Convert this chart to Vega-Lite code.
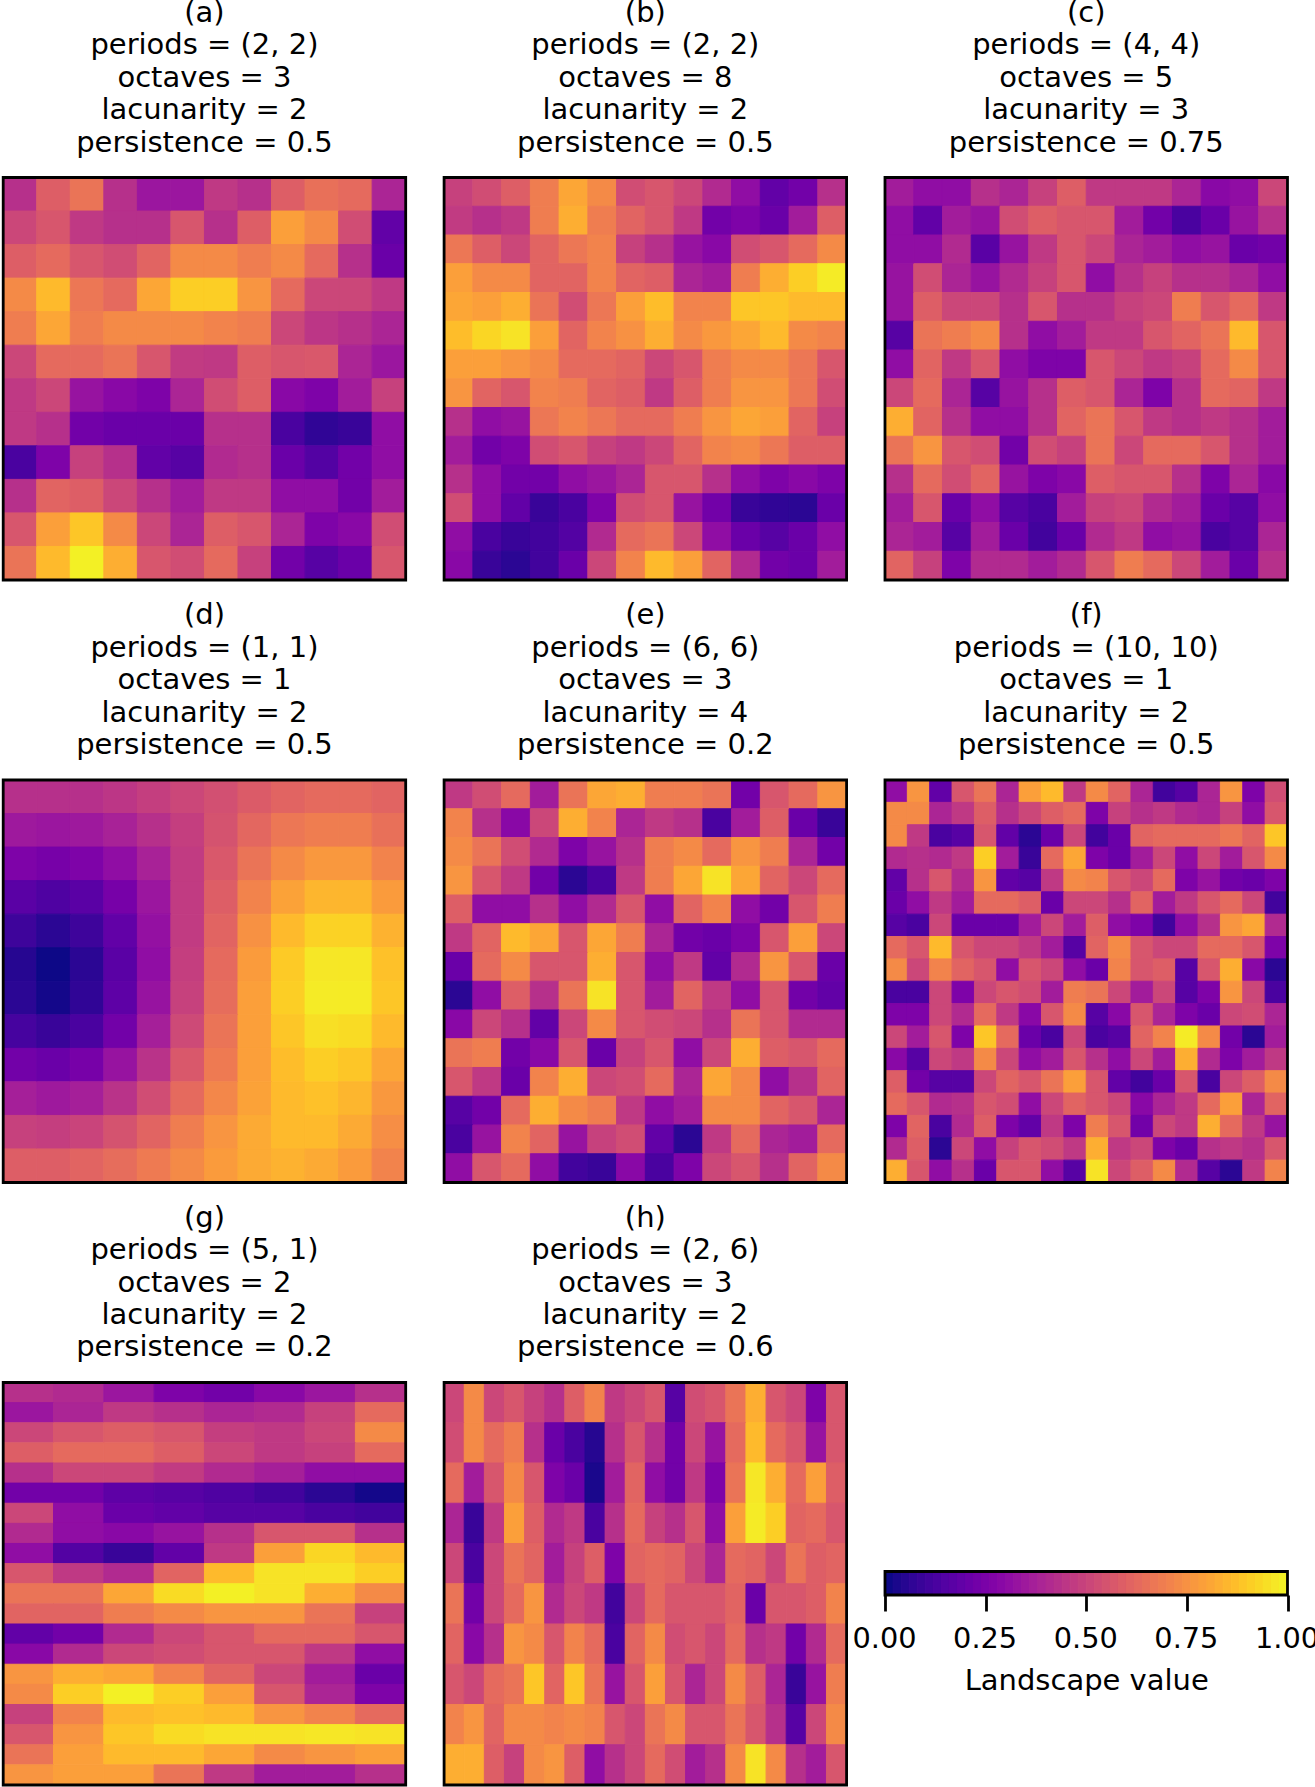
{"$schema":"https://vega.github.io/schema/vega-lite/v6.json","padding":{"left":1.2,"top":-1.5,"right":0,"bottom":0},"background":"white","config":{"font":"DejaVu Sans","view":{"stroke":null},"title":{"fontSize":29,"fontWeight":"normal","lineHeight":32.4,"color":"black","offset":18.6,"anchor":"middle","font":"DejaVu Sans"}},"datasets":{
"a":[
{"x":0,"y":0,"v":0.42},{"x":1,"y":0,"v":0.58},{"x":2,"y":0,"v":0.65},{"x":3,"y":0,"v":0.42},{"x":4,"y":0,"v":0.33},{"x":5,"y":0,"v":0.33},{"x":6,"y":0,"v":0.45},{"x":7,"y":0,"v":0.42},{"x":8,"y":0,"v":0.58},{"x":9,"y":0,"v":0.64},{"x":10,"y":0,"v":0.62},{"x":11,"y":0,"v":0.38},
{"x":0,"y":1,"v":0.5},{"x":1,"y":1,"v":0.55},{"x":2,"y":1,"v":0.45},{"x":3,"y":1,"v":0.42},{"x":4,"y":1,"v":0.42},{"x":5,"y":1,"v":0.55},{"x":6,"y":1,"v":0.42},{"x":7,"y":1,"v":0.58},{"x":8,"y":1,"v":0.78},{"x":9,"y":1,"v":0.72},{"x":10,"y":1,"v":0.52},{"x":11,"y":1,"v":0.18},
{"x":0,"y":2,"v":0.58},{"x":1,"y":2,"v":0.62},{"x":2,"y":2,"v":0.55},{"x":3,"y":2,"v":0.52},{"x":4,"y":2,"v":0.6},{"x":5,"y":2,"v":0.72},{"x":6,"y":2,"v":0.72},{"x":7,"y":2,"v":0.68},{"x":8,"y":2,"v":0.72},{"x":9,"y":2,"v":0.62},{"x":10,"y":2,"v":0.42},{"x":11,"y":2,"v":0.2},
{"x":0,"y":3,"v":0.72},{"x":1,"y":3,"v":0.85},{"x":2,"y":3,"v":0.66},{"x":3,"y":3,"v":0.62},{"x":4,"y":3,"v":0.8},{"x":5,"y":3,"v":0.9},{"x":6,"y":3,"v":0.9},{"x":7,"y":3,"v":0.75},{"x":8,"y":3,"v":0.62},{"x":9,"y":3,"v":0.5},{"x":10,"y":3,"v":0.5},{"x":11,"y":3,"v":0.45},
{"x":0,"y":4,"v":0.68},{"x":1,"y":4,"v":0.8},{"x":2,"y":4,"v":0.68},{"x":3,"y":4,"v":0.72},{"x":4,"y":4,"v":0.72},{"x":5,"y":4,"v":0.72},{"x":6,"y":4,"v":0.7},{"x":7,"y":4,"v":0.68},{"x":8,"y":4,"v":0.5},{"x":9,"y":4,"v":0.44},{"x":10,"y":4,"v":0.42},{"x":11,"y":4,"v":0.38},
{"x":0,"y":5,"v":0.5},{"x":1,"y":5,"v":0.62},{"x":2,"y":5,"v":0.62},{"x":3,"y":5,"v":0.65},{"x":4,"y":5,"v":0.55},{"x":5,"y":5,"v":0.46},{"x":6,"y":5,"v":0.45},{"x":7,"y":5,"v":0.58},{"x":8,"y":5,"v":0.55},{"x":9,"y":5,"v":0.56},{"x":10,"y":5,"v":0.38},{"x":11,"y":5,"v":0.33},
{"x":0,"y":6,"v":0.45},{"x":1,"y":6,"v":0.5},{"x":2,"y":6,"v":0.32},{"x":3,"y":6,"v":0.28},{"x":4,"y":6,"v":0.25},{"x":5,"y":6,"v":0.38},{"x":6,"y":6,"v":0.52},{"x":7,"y":6,"v":0.58},{"x":8,"y":6,"v":0.28},{"x":9,"y":6,"v":0.25},{"x":10,"y":6,"v":0.35},{"x":11,"y":6,"v":0.48},
{"x":0,"y":7,"v":0.45},{"x":1,"y":7,"v":0.42},{"x":2,"y":7,"v":0.22},{"x":3,"y":7,"v":0.2},{"x":4,"y":7,"v":0.2},{"x":5,"y":7,"v":0.2},{"x":6,"y":7,"v":0.42},{"x":7,"y":7,"v":0.42},{"x":8,"y":7,"v":0.12},{"x":9,"y":7,"v":0.06},{"x":10,"y":7,"v":0.08},{"x":11,"y":7,"v":0.3},
{"x":0,"y":8,"v":0.12},{"x":1,"y":8,"v":0.25},{"x":2,"y":8,"v":0.48},{"x":3,"y":8,"v":0.42},{"x":4,"y":8,"v":0.18},{"x":5,"y":8,"v":0.15},{"x":6,"y":8,"v":0.4},{"x":7,"y":8,"v":0.42},{"x":8,"y":8,"v":0.2},{"x":9,"y":8,"v":0.14},{"x":10,"y":8,"v":0.22},{"x":11,"y":8,"v":0.3},
{"x":0,"y":9,"v":0.42},{"x":1,"y":9,"v":0.6},{"x":2,"y":9,"v":0.58},{"x":3,"y":9,"v":0.5},{"x":4,"y":9,"v":0.42},{"x":5,"y":9,"v":0.35},{"x":6,"y":9,"v":0.45},{"x":7,"y":9,"v":0.45},{"x":8,"y":9,"v":0.3},{"x":9,"y":9,"v":0.3},{"x":10,"y":9,"v":0.22},{"x":11,"y":9,"v":0.35},
{"x":0,"y":10,"v":0.55},{"x":1,"y":10,"v":0.78},{"x":2,"y":10,"v":0.88},{"x":3,"y":10,"v":0.72},{"x":4,"y":10,"v":0.5},{"x":5,"y":10,"v":0.38},{"x":6,"y":10,"v":0.58},{"x":7,"y":10,"v":0.55},{"x":8,"y":10,"v":0.38},{"x":9,"y":10,"v":0.25},{"x":10,"y":10,"v":0.28},{"x":11,"y":10,"v":0.52},
{"x":0,"y":11,"v":0.65},{"x":1,"y":11,"v":0.85},{"x":2,"y":11,"v":0.98},{"x":3,"y":11,"v":0.82},{"x":4,"y":11,"v":0.55},{"x":5,"y":11,"v":0.52},{"x":6,"y":11,"v":0.62},{"x":7,"y":11,"v":0.48},{"x":8,"y":11,"v":0.22},{"x":9,"y":11,"v":0.15},{"x":10,"y":11,"v":0.2},{"x":11,"y":11,"v":0.55}],
"b":[
{"x":0,"y":0,"v":0.48},{"x":1,"y":0,"v":0.52},{"x":2,"y":0,"v":0.58},{"x":3,"y":0,"v":0.68},{"x":4,"y":0,"v":0.8},{"x":5,"y":0,"v":0.72},{"x":6,"y":0,"v":0.52},{"x":7,"y":0,"v":0.55},{"x":8,"y":0,"v":0.5},{"x":9,"y":0,"v":0.4},{"x":10,"y":0,"v":0.3},{"x":11,"y":0,"v":0.18},{"x":12,"y":0,"v":0.22},{"x":13,"y":0,"v":0.42},
{"x":0,"y":1,"v":0.46},{"x":1,"y":1,"v":0.42},{"x":2,"y":1,"v":0.45},{"x":3,"y":1,"v":0.68},{"x":4,"y":1,"v":0.82},{"x":5,"y":1,"v":0.68},{"x":6,"y":1,"v":0.6},{"x":7,"y":1,"v":0.55},{"x":8,"y":1,"v":0.45},{"x":9,"y":1,"v":0.22},{"x":10,"y":1,"v":0.25},{"x":11,"y":1,"v":0.2},{"x":12,"y":1,"v":0.35},{"x":13,"y":1,"v":0.58},
{"x":0,"y":2,"v":0.66},{"x":1,"y":2,"v":0.58},{"x":2,"y":2,"v":0.5},{"x":3,"y":2,"v":0.6},{"x":4,"y":2,"v":0.66},{"x":5,"y":2,"v":0.7},{"x":6,"y":2,"v":0.48},{"x":7,"y":2,"v":0.42},{"x":8,"y":2,"v":0.32},{"x":9,"y":2,"v":0.28},{"x":10,"y":2,"v":0.52},{"x":11,"y":2,"v":0.55},{"x":12,"y":2,"v":0.62},{"x":13,"y":2,"v":0.72},
{"x":0,"y":3,"v":0.78},{"x":1,"y":3,"v":0.72},{"x":2,"y":3,"v":0.72},{"x":3,"y":3,"v":0.6},{"x":4,"y":3,"v":0.6},{"x":5,"y":3,"v":0.7},{"x":6,"y":3,"v":0.6},{"x":7,"y":3,"v":0.58},{"x":8,"y":3,"v":0.38},{"x":9,"y":3,"v":0.35},{"x":10,"y":3,"v":0.68},{"x":11,"y":3,"v":0.82},{"x":12,"y":3,"v":0.9},{"x":13,"y":3,"v":0.97},
{"x":0,"y":4,"v":0.8},{"x":1,"y":4,"v":0.78},{"x":2,"y":4,"v":0.82},{"x":3,"y":4,"v":0.65},{"x":4,"y":4,"v":0.52},{"x":5,"y":4,"v":0.66},{"x":6,"y":4,"v":0.78},{"x":7,"y":4,"v":0.86},{"x":8,"y":4,"v":0.7},{"x":9,"y":4,"v":0.7},{"x":10,"y":4,"v":0.88},{"x":11,"y":4,"v":0.88},{"x":12,"y":4,"v":0.85},{"x":13,"y":4,"v":0.85},
{"x":0,"y":5,"v":0.86},{"x":1,"y":5,"v":0.92},{"x":2,"y":5,"v":0.95},{"x":3,"y":5,"v":0.78},{"x":4,"y":5,"v":0.6},{"x":5,"y":5,"v":0.7},{"x":6,"y":5,"v":0.74},{"x":7,"y":5,"v":0.82},{"x":8,"y":5,"v":0.72},{"x":9,"y":5,"v":0.76},{"x":10,"y":5,"v":0.8},{"x":11,"y":5,"v":0.85},{"x":12,"y":5,"v":0.72},{"x":13,"y":5,"v":0.7},
{"x":0,"y":6,"v":0.78},{"x":1,"y":6,"v":0.78},{"x":2,"y":6,"v":0.75},{"x":3,"y":6,"v":0.72},{"x":4,"y":6,"v":0.62},{"x":5,"y":6,"v":0.62},{"x":6,"y":6,"v":0.6},{"x":7,"y":6,"v":0.5},{"x":8,"y":6,"v":0.55},{"x":9,"y":6,"v":0.68},{"x":10,"y":6,"v":0.72},{"x":11,"y":6,"v":0.72},{"x":12,"y":6,"v":0.66},{"x":13,"y":6,"v":0.55},
{"x":0,"y":7,"v":0.75},{"x":1,"y":7,"v":0.6},{"x":2,"y":7,"v":0.55},{"x":3,"y":7,"v":0.7},{"x":4,"y":7,"v":0.68},{"x":5,"y":7,"v":0.6},{"x":6,"y":7,"v":0.58},{"x":7,"y":7,"v":0.45},{"x":8,"y":7,"v":0.58},{"x":9,"y":7,"v":0.68},{"x":10,"y":7,"v":0.75},{"x":11,"y":7,"v":0.75},{"x":12,"y":7,"v":0.66},{"x":13,"y":7,"v":0.52},
{"x":0,"y":8,"v":0.42},{"x":1,"y":8,"v":0.3},{"x":2,"y":8,"v":0.32},{"x":3,"y":8,"v":0.66},{"x":4,"y":8,"v":0.7},{"x":5,"y":8,"v":0.66},{"x":6,"y":8,"v":0.62},{"x":7,"y":8,"v":0.62},{"x":8,"y":8,"v":0.68},{"x":9,"y":8,"v":0.75},{"x":10,"y":8,"v":0.8},{"x":11,"y":8,"v":0.78},{"x":12,"y":8,"v":0.6},{"x":13,"y":8,"v":0.48},
{"x":0,"y":9,"v":0.35},{"x":1,"y":9,"v":0.22},{"x":2,"y":9,"v":0.25},{"x":3,"y":9,"v":0.52},{"x":4,"y":9,"v":0.55},{"x":5,"y":9,"v":0.48},{"x":6,"y":9,"v":0.45},{"x":7,"y":9,"v":0.5},{"x":8,"y":9,"v":0.6},{"x":9,"y":9,"v":0.7},{"x":10,"y":9,"v":0.72},{"x":11,"y":9,"v":0.66},{"x":12,"y":9,"v":0.58},{"x":13,"y":9,"v":0.58},
{"x":0,"y":10,"v":0.42},{"x":1,"y":10,"v":0.3},{"x":2,"y":10,"v":0.22},{"x":3,"y":10,"v":0.22},{"x":4,"y":10,"v":0.3},{"x":5,"y":10,"v":0.33},{"x":6,"y":10,"v":0.38},{"x":7,"y":10,"v":0.55},{"x":8,"y":10,"v":0.55},{"x":9,"y":10,"v":0.42},{"x":10,"y":10,"v":0.3},{"x":11,"y":10,"v":0.25},{"x":12,"y":10,"v":0.28},{"x":13,"y":10,"v":0.25},
{"x":0,"y":11,"v":0.52},{"x":1,"y":11,"v":0.3},{"x":2,"y":11,"v":0.18},{"x":3,"y":11,"v":0.08},{"x":4,"y":11,"v":0.12},{"x":5,"y":11,"v":0.25},{"x":6,"y":11,"v":0.52},{"x":7,"y":11,"v":0.55},{"x":8,"y":11,"v":0.32},{"x":9,"y":11,"v":0.22},{"x":10,"y":11,"v":0.08},{"x":11,"y":11,"v":0.06},{"x":12,"y":11,"v":0.05},{"x":13,"y":11,"v":0.2},
{"x":0,"y":12,"v":0.3},{"x":1,"y":12,"v":0.12},{"x":2,"y":12,"v":0.08},{"x":3,"y":12,"v":0.1},{"x":4,"y":12,"v":0.14},{"x":5,"y":12,"v":0.4},{"x":6,"y":12,"v":0.62},{"x":7,"y":12,"v":0.65},{"x":8,"y":12,"v":0.5},{"x":9,"y":12,"v":0.3},{"x":10,"y":12,"v":0.2},{"x":11,"y":12,"v":0.15},{"x":12,"y":12,"v":0.2},{"x":13,"y":12,"v":0.3},
{"x":0,"y":13,"v":0.28},{"x":1,"y":13,"v":0.08},{"x":2,"y":13,"v":0.05},{"x":3,"y":13,"v":0.1},{"x":4,"y":13,"v":0.2},{"x":5,"y":13,"v":0.5},{"x":6,"y":13,"v":0.7},{"x":7,"y":13,"v":0.85},{"x":8,"y":13,"v":0.78},{"x":9,"y":13,"v":0.6},{"x":10,"y":13,"v":0.4},{"x":11,"y":13,"v":0.22},{"x":12,"y":13,"v":0.2},{"x":13,"y":13,"v":0.35}],
"c":[
{"x":0,"y":0,"v":0.35},{"x":1,"y":0,"v":0.3},{"x":2,"y":0,"v":0.3},{"x":3,"y":0,"v":0.42},{"x":4,"y":0,"v":0.38},{"x":5,"y":0,"v":0.48},{"x":6,"y":0,"v":0.58},{"x":7,"y":0,"v":0.45},{"x":8,"y":0,"v":0.45},{"x":9,"y":0,"v":0.45},{"x":10,"y":0,"v":0.38},{"x":11,"y":0,"v":0.28},{"x":12,"y":0,"v":0.3},{"x":13,"y":0,"v":0.5},
{"x":0,"y":1,"v":0.3},{"x":1,"y":1,"v":0.18},{"x":2,"y":1,"v":0.35},{"x":3,"y":1,"v":0.32},{"x":4,"y":1,"v":0.52},{"x":5,"y":1,"v":0.58},{"x":6,"y":1,"v":0.55},{"x":7,"y":1,"v":0.55},{"x":8,"y":1,"v":0.35},{"x":9,"y":1,"v":0.22},{"x":10,"y":1,"v":0.12},{"x":11,"y":1,"v":0.2},{"x":12,"y":1,"v":0.32},{"x":13,"y":1,"v":0.42},
{"x":0,"y":2,"v":0.3},{"x":1,"y":2,"v":0.3},{"x":2,"y":2,"v":0.4},{"x":3,"y":2,"v":0.16},{"x":4,"y":2,"v":0.32},{"x":5,"y":2,"v":0.45},{"x":6,"y":2,"v":0.55},{"x":7,"y":2,"v":0.5},{"x":8,"y":2,"v":0.38},{"x":9,"y":2,"v":0.35},{"x":10,"y":2,"v":0.3},{"x":11,"y":2,"v":0.32},{"x":12,"y":2,"v":0.2},{"x":13,"y":2,"v":0.22},
{"x":0,"y":3,"v":0.32},{"x":1,"y":3,"v":0.52},{"x":2,"y":3,"v":0.38},{"x":3,"y":3,"v":0.32},{"x":4,"y":3,"v":0.4},{"x":5,"y":3,"v":0.48},{"x":6,"y":3,"v":0.55},{"x":7,"y":3,"v":0.3},{"x":8,"y":3,"v":0.42},{"x":9,"y":3,"v":0.48},{"x":10,"y":3,"v":0.42},{"x":11,"y":3,"v":0.42},{"x":12,"y":3,"v":0.38},{"x":13,"y":3,"v":0.3},
{"x":0,"y":4,"v":0.32},{"x":1,"y":4,"v":0.58},{"x":2,"y":4,"v":0.5},{"x":3,"y":4,"v":0.5},{"x":4,"y":4,"v":0.42},{"x":5,"y":4,"v":0.55},{"x":6,"y":4,"v":0.42},{"x":7,"y":4,"v":0.42},{"x":8,"y":4,"v":0.48},{"x":9,"y":4,"v":0.5},{"x":10,"y":4,"v":0.68},{"x":11,"y":4,"v":0.55},{"x":12,"y":4,"v":0.62},{"x":13,"y":4,"v":0.45},
{"x":0,"y":5,"v":0.15},{"x":1,"y":5,"v":0.65},{"x":2,"y":5,"v":0.68},{"x":3,"y":5,"v":0.72},{"x":4,"y":5,"v":0.42},{"x":5,"y":5,"v":0.3},{"x":6,"y":5,"v":0.35},{"x":7,"y":5,"v":0.45},{"x":8,"y":5,"v":0.45},{"x":9,"y":5,"v":0.55},{"x":10,"y":5,"v":0.6},{"x":11,"y":5,"v":0.65},{"x":12,"y":5,"v":0.85},{"x":13,"y":5,"v":0.55},
{"x":0,"y":6,"v":0.3},{"x":1,"y":6,"v":0.6},{"x":2,"y":6,"v":0.45},{"x":3,"y":6,"v":0.55},{"x":4,"y":6,"v":0.3},{"x":5,"y":6,"v":0.25},{"x":6,"y":6,"v":0.25},{"x":7,"y":6,"v":0.55},{"x":8,"y":6,"v":0.5},{"x":9,"y":6,"v":0.45},{"x":10,"y":6,"v":0.48},{"x":11,"y":6,"v":0.62},{"x":12,"y":6,"v":0.72},{"x":13,"y":6,"v":0.55},
{"x":0,"y":7,"v":0.5},{"x":1,"y":7,"v":0.62},{"x":2,"y":7,"v":0.38},{"x":3,"y":7,"v":0.15},{"x":4,"y":7,"v":0.32},{"x":5,"y":7,"v":0.42},{"x":6,"y":7,"v":0.58},{"x":7,"y":7,"v":0.55},{"x":8,"y":7,"v":0.38},{"x":9,"y":7,"v":0.25},{"x":10,"y":7,"v":0.42},{"x":11,"y":7,"v":0.62},{"x":12,"y":7,"v":0.6},{"x":13,"y":7,"v":0.45},
{"x":0,"y":8,"v":0.82},{"x":1,"y":8,"v":0.6},{"x":2,"y":8,"v":0.42},{"x":3,"y":8,"v":0.3},{"x":4,"y":8,"v":0.3},{"x":5,"y":8,"v":0.42},{"x":6,"y":8,"v":0.6},{"x":7,"y":8,"v":0.65},{"x":8,"y":8,"v":0.55},{"x":9,"y":8,"v":0.45},{"x":10,"y":8,"v":0.42},{"x":11,"y":8,"v":0.45},{"x":12,"y":8,"v":0.42},{"x":13,"y":8,"v":0.35},
{"x":0,"y":9,"v":0.65},{"x":1,"y":9,"v":0.75},{"x":2,"y":9,"v":0.55},{"x":3,"y":9,"v":0.52},{"x":4,"y":9,"v":0.22},{"x":5,"y":9,"v":0.52},{"x":6,"y":9,"v":0.48},{"x":7,"y":9,"v":0.65},{"x":8,"y":9,"v":0.5},{"x":9,"y":9,"v":0.62},{"x":10,"y":9,"v":0.62},{"x":11,"y":9,"v":0.55},{"x":12,"y":9,"v":0.42},{"x":13,"y":9,"v":0.35},
{"x":0,"y":10,"v":0.42},{"x":1,"y":10,"v":0.62},{"x":2,"y":10,"v":0.52},{"x":3,"y":10,"v":0.6},{"x":4,"y":10,"v":0.32},{"x":5,"y":10,"v":0.25},{"x":6,"y":10,"v":0.28},{"x":7,"y":10,"v":0.58},{"x":8,"y":10,"v":0.55},{"x":9,"y":10,"v":0.55},{"x":10,"y":10,"v":0.42},{"x":11,"y":10,"v":0.25},{"x":12,"y":10,"v":0.38},{"x":13,"y":10,"v":0.28},
{"x":0,"y":11,"v":0.35},{"x":1,"y":11,"v":0.55},{"x":2,"y":11,"v":0.2},{"x":3,"y":11,"v":0.3},{"x":4,"y":11,"v":0.15},{"x":5,"y":11,"v":0.12},{"x":6,"y":11,"v":0.35},{"x":7,"y":11,"v":0.48},{"x":8,"y":11,"v":0.5},{"x":9,"y":11,"v":0.4},{"x":10,"y":11,"v":0.35},{"x":11,"y":11,"v":0.2},{"x":12,"y":11,"v":0.15},{"x":13,"y":11,"v":0.3},
{"x":0,"y":12,"v":0.38},{"x":1,"y":12,"v":0.35},{"x":2,"y":12,"v":0.15},{"x":3,"y":12,"v":0.35},{"x":4,"y":12,"v":0.2},{"x":5,"y":12,"v":0.1},{"x":6,"y":12,"v":0.2},{"x":7,"y":12,"v":0.4},{"x":8,"y":12,"v":0.45},{"x":9,"y":12,"v":0.3},{"x":10,"y":12,"v":0.32},{"x":11,"y":12,"v":0.12},{"x":12,"y":12,"v":0.15},{"x":13,"y":12,"v":0.38},
{"x":0,"y":13,"v":0.6},{"x":1,"y":13,"v":0.48},{"x":2,"y":13,"v":0.25},{"x":3,"y":13,"v":0.4},{"x":4,"y":13,"v":0.4},{"x":5,"y":13,"v":0.35},{"x":6,"y":13,"v":0.4},{"x":7,"y":13,"v":0.55},{"x":8,"y":13,"v":0.68},{"x":9,"y":13,"v":0.62},{"x":10,"y":13,"v":0.5},{"x":11,"y":13,"v":0.35},{"x":12,"y":13,"v":0.2},{"x":13,"y":13,"v":0.42}],
"d":[
{"x":0,"y":0,"v":0.42},{"x":1,"y":0,"v":0.42},{"x":2,"y":0,"v":0.42},{"x":3,"y":0,"v":0.44},{"x":4,"y":0,"v":0.47},{"x":5,"y":0,"v":0.5},{"x":6,"y":0,"v":0.53},{"x":7,"y":0,"v":0.57},{"x":8,"y":0,"v":0.6},{"x":9,"y":0,"v":0.62},{"x":10,"y":0,"v":0.62},{"x":11,"y":0,"v":0.6},
{"x":0,"y":1,"v":0.34},{"x":1,"y":1,"v":0.33},{"x":2,"y":1,"v":0.34},{"x":3,"y":1,"v":0.37},{"x":4,"y":1,"v":0.42},{"x":5,"y":1,"v":0.47},{"x":6,"y":1,"v":0.54},{"x":7,"y":1,"v":0.61},{"x":8,"y":1,"v":0.66},{"x":9,"y":1,"v":0.68},{"x":10,"y":1,"v":0.68},{"x":11,"y":1,"v":0.64},
{"x":0,"y":2,"v":0.25},{"x":1,"y":2,"v":0.23},{"x":2,"y":2,"v":0.25},{"x":3,"y":2,"v":0.3},{"x":4,"y":2,"v":0.37},{"x":5,"y":2,"v":0.46},{"x":6,"y":2,"v":0.56},{"x":7,"y":2,"v":0.65},{"x":8,"y":2,"v":0.72},{"x":9,"y":2,"v":0.76},{"x":10,"y":2,"v":0.76},{"x":11,"y":2,"v":0.7},
{"x":0,"y":3,"v":0.16},{"x":1,"y":3,"v":0.13},{"x":2,"y":3,"v":0.16},{"x":3,"y":3,"v":0.23},{"x":4,"y":3,"v":0.33},{"x":5,"y":3,"v":0.46},{"x":6,"y":3,"v":0.58},{"x":7,"y":3,"v":0.7},{"x":8,"y":3,"v":0.79},{"x":9,"y":3,"v":0.84},{"x":10,"y":3,"v":0.84},{"x":11,"y":3,"v":0.77},
{"x":0,"y":4,"v":0.09},{"x":1,"y":4,"v":0.05},{"x":2,"y":4,"v":0.09},{"x":3,"y":4,"v":0.18},{"x":4,"y":4,"v":0.31},{"x":5,"y":4,"v":0.46},{"x":6,"y":4,"v":0.6},{"x":7,"y":4,"v":0.74},{"x":8,"y":4,"v":0.85},{"x":9,"y":4,"v":0.91},{"x":10,"y":4,"v":0.91},{"x":11,"y":4,"v":0.83},
{"x":0,"y":5,"v":0.04},{"x":1,"y":5,"v":0.0},{"x":2,"y":5,"v":0.05},{"x":3,"y":5,"v":0.16},{"x":4,"y":5,"v":0.3},{"x":5,"y":5,"v":0.47},{"x":6,"y":5,"v":0.62},{"x":7,"y":5,"v":0.77},{"x":8,"y":5,"v":0.89},{"x":9,"y":5,"v":0.96},{"x":10,"y":5,"v":0.96},{"x":11,"y":5,"v":0.87},
{"x":0,"y":6,"v":0.05},{"x":1,"y":6,"v":0.01},{"x":2,"y":6,"v":0.06},{"x":3,"y":6,"v":0.17},{"x":4,"y":6,"v":0.32},{"x":5,"y":6,"v":0.48},{"x":6,"y":6,"v":0.63},{"x":7,"y":6,"v":0.78},{"x":8,"y":6,"v":0.9},{"x":9,"y":6,"v":0.97},{"x":10,"y":6,"v":0.97},{"x":11,"y":6,"v":0.88},
{"x":0,"y":7,"v":0.11},{"x":1,"y":7,"v":0.08},{"x":2,"y":7,"v":0.12},{"x":3,"y":7,"v":0.22},{"x":4,"y":7,"v":0.36},{"x":5,"y":7,"v":0.51},{"x":6,"y":7,"v":0.65},{"x":7,"y":7,"v":0.78},{"x":8,"y":7,"v":0.88},{"x":9,"y":7,"v":0.94},{"x":10,"y":7,"v":0.93},{"x":11,"y":7,"v":0.85},
{"x":0,"y":8,"v":0.22},{"x":1,"y":8,"v":0.2},{"x":2,"y":8,"v":0.23},{"x":3,"y":8,"v":0.32},{"x":4,"y":8,"v":0.43},{"x":5,"y":8,"v":0.56},{"x":6,"y":8,"v":0.67},{"x":7,"y":8,"v":0.78},{"x":8,"y":8,"v":0.86},{"x":9,"y":8,"v":0.9},{"x":10,"y":8,"v":0.88},{"x":11,"y":8,"v":0.8},
{"x":0,"y":9,"v":0.36},{"x":1,"y":9,"v":0.34},{"x":2,"y":9,"v":0.36},{"x":3,"y":9,"v":0.43},{"x":4,"y":9,"v":0.52},{"x":5,"y":9,"v":0.62},{"x":6,"y":9,"v":0.71},{"x":7,"y":9,"v":0.79},{"x":8,"y":9,"v":0.85},{"x":9,"y":9,"v":0.87},{"x":10,"y":9,"v":0.84},{"x":11,"y":9,"v":0.76},
{"x":0,"y":10,"v":0.48},{"x":1,"y":10,"v":0.47},{"x":2,"y":10,"v":0.49},{"x":3,"y":10,"v":0.54},{"x":4,"y":10,"v":0.6},{"x":5,"y":10,"v":0.68},{"x":6,"y":10,"v":0.75},{"x":7,"y":10,"v":0.81},{"x":8,"y":10,"v":0.85},{"x":9,"y":10,"v":0.85},{"x":10,"y":10,"v":0.81},{"x":11,"y":10,"v":0.73},
{"x":0,"y":11,"v":0.58},{"x":1,"y":11,"v":0.58},{"x":2,"y":11,"v":0.6},{"x":3,"y":11,"v":0.63},{"x":4,"y":11,"v":0.67},{"x":5,"y":11,"v":0.72},{"x":6,"y":11,"v":0.77},{"x":7,"y":11,"v":0.81},{"x":8,"y":11,"v":0.83},{"x":9,"y":11,"v":0.81},{"x":10,"y":11,"v":0.77},{"x":11,"y":11,"v":0.7}],
"e":[
{"x":0,"y":0,"v":0.45},{"x":1,"y":0,"v":0.52},{"x":2,"y":0,"v":0.62},{"x":3,"y":0,"v":0.35},{"x":4,"y":0,"v":0.65},{"x":5,"y":0,"v":0.8},{"x":6,"y":0,"v":0.82},{"x":7,"y":0,"v":0.68},{"x":8,"y":0,"v":0.68},{"x":9,"y":0,"v":0.65},{"x":10,"y":0,"v":0.22},{"x":11,"y":0,"v":0.55},{"x":12,"y":0,"v":0.62},{"x":13,"y":0,"v":0.75},
{"x":0,"y":1,"v":0.7},{"x":1,"y":1,"v":0.42},{"x":2,"y":1,"v":0.28},{"x":3,"y":1,"v":0.5},{"x":4,"y":1,"v":0.82},{"x":5,"y":1,"v":0.7},{"x":6,"y":1,"v":0.38},{"x":7,"y":1,"v":0.45},{"x":8,"y":1,"v":0.42},{"x":9,"y":1,"v":0.12},{"x":10,"y":1,"v":0.35},{"x":11,"y":1,"v":0.58},{"x":12,"y":1,"v":0.2},{"x":13,"y":1,"v":0.08},
{"x":0,"y":2,"v":0.72},{"x":1,"y":2,"v":0.65},{"x":2,"y":2,"v":0.52},{"x":3,"y":2,"v":0.4},{"x":4,"y":2,"v":0.25},{"x":5,"y":2,"v":0.32},{"x":6,"y":2,"v":0.42},{"x":7,"y":2,"v":0.68},{"x":8,"y":2,"v":0.72},{"x":9,"y":2,"v":0.62},{"x":10,"y":2,"v":0.75},{"x":11,"y":2,"v":0.68},{"x":12,"y":2,"v":0.38},{"x":13,"y":2,"v":0.22},
{"x":0,"y":3,"v":0.75},{"x":1,"y":3,"v":0.55},{"x":2,"y":3,"v":0.45},{"x":3,"y":3,"v":0.22},{"x":4,"y":3,"v":0.05},{"x":5,"y":3,"v":0.12},{"x":6,"y":3,"v":0.45},{"x":7,"y":3,"v":0.68},{"x":8,"y":3,"v":0.8},{"x":9,"y":3,"v":0.95},{"x":10,"y":3,"v":0.8},{"x":11,"y":3,"v":0.6},{"x":12,"y":3,"v":0.5},{"x":13,"y":3,"v":0.62},
{"x":0,"y":4,"v":0.58},{"x":1,"y":4,"v":0.3},{"x":2,"y":4,"v":0.3},{"x":3,"y":4,"v":0.42},{"x":4,"y":4,"v":0.3},{"x":5,"y":4,"v":0.4},{"x":6,"y":4,"v":0.55},{"x":7,"y":4,"v":0.3},{"x":8,"y":4,"v":0.6},{"x":9,"y":4,"v":0.7},{"x":10,"y":4,"v":0.3},{"x":11,"y":4,"v":0.22},{"x":12,"y":4,"v":0.55},{"x":13,"y":4,"v":0.68},
{"x":0,"y":5,"v":0.45},{"x":1,"y":5,"v":0.6},{"x":2,"y":5,"v":0.85},{"x":3,"y":5,"v":0.8},{"x":4,"y":5,"v":0.55},{"x":5,"y":5,"v":0.8},{"x":6,"y":5,"v":0.68},{"x":7,"y":5,"v":0.38},{"x":8,"y":5,"v":0.22},{"x":9,"y":5,"v":0.2},{"x":10,"y":5,"v":0.25},{"x":11,"y":5,"v":0.55},{"x":12,"y":5,"v":0.78},{"x":13,"y":5,"v":0.5},
{"x":0,"y":6,"v":0.2},{"x":1,"y":6,"v":0.62},{"x":2,"y":6,"v":0.72},{"x":3,"y":6,"v":0.55},{"x":4,"y":6,"v":0.55},{"x":5,"y":6,"v":0.82},{"x":6,"y":6,"v":0.55},{"x":7,"y":6,"v":0.3},{"x":8,"y":6,"v":0.45},{"x":9,"y":6,"v":0.18},{"x":10,"y":6,"v":0.4},{"x":11,"y":6,"v":0.75},{"x":12,"y":6,"v":0.55},{"x":13,"y":6,"v":0.2},
{"x":0,"y":7,"v":0.05},{"x":1,"y":7,"v":0.3},{"x":2,"y":7,"v":0.58},{"x":3,"y":7,"v":0.42},{"x":4,"y":7,"v":0.65},{"x":5,"y":7,"v":0.95},{"x":6,"y":7,"v":0.55},{"x":7,"y":7,"v":0.35},{"x":8,"y":7,"v":0.6},{"x":9,"y":7,"v":0.45},{"x":10,"y":7,"v":0.3},{"x":11,"y":7,"v":0.55},{"x":12,"y":7,"v":0.22},{"x":13,"y":7,"v":0.18},
{"x":0,"y":8,"v":0.28},{"x":1,"y":8,"v":0.5},{"x":2,"y":8,"v":0.42},{"x":3,"y":8,"v":0.18},{"x":4,"y":8,"v":0.5},{"x":5,"y":8,"v":0.72},{"x":6,"y":8,"v":0.55},{"x":7,"y":8,"v":0.52},{"x":8,"y":8,"v":0.5},{"x":9,"y":8,"v":0.42},{"x":10,"y":8,"v":0.65},{"x":11,"y":8,"v":0.55},{"x":12,"y":8,"v":0.4},{"x":13,"y":8,"v":0.4},
{"x":0,"y":9,"v":0.65},{"x":1,"y":9,"v":0.68},{"x":2,"y":9,"v":0.22},{"x":3,"y":9,"v":0.28},{"x":4,"y":9,"v":0.55},{"x":5,"y":9,"v":0.2},{"x":6,"y":9,"v":0.48},{"x":7,"y":9,"v":0.55},{"x":8,"y":9,"v":0.3},{"x":9,"y":9,"v":0.5},{"x":10,"y":9,"v":0.82},{"x":11,"y":9,"v":0.58},{"x":12,"y":9,"v":0.55},{"x":13,"y":9,"v":0.62},
{"x":0,"y":10,"v":0.55},{"x":1,"y":10,"v":0.45},{"x":2,"y":10,"v":0.2},{"x":3,"y":10,"v":0.7},{"x":4,"y":10,"v":0.82},{"x":5,"y":10,"v":0.5},{"x":6,"y":10,"v":0.52},{"x":7,"y":10,"v":0.62},{"x":8,"y":10,"v":0.38},{"x":9,"y":10,"v":0.8},{"x":10,"y":10,"v":0.72},{"x":11,"y":10,"v":0.3},{"x":12,"y":10,"v":0.42},{"x":13,"y":10,"v":0.6},
{"x":0,"y":11,"v":0.15},{"x":1,"y":11,"v":0.22},{"x":2,"y":11,"v":0.62},{"x":3,"y":11,"v":0.82},{"x":4,"y":11,"v":0.72},{"x":5,"y":11,"v":0.68},{"x":6,"y":11,"v":0.45},{"x":7,"y":11,"v":0.3},{"x":8,"y":11,"v":0.35},{"x":9,"y":11,"v":0.72},{"x":10,"y":11,"v":0.72},{"x":11,"y":11,"v":0.6},{"x":12,"y":11,"v":0.55},{"x":13,"y":11,"v":0.38},
{"x":0,"y":12,"v":0.12},{"x":1,"y":12,"v":0.32},{"x":2,"y":12,"v":0.7},{"x":3,"y":12,"v":0.6},{"x":4,"y":12,"v":0.32},{"x":5,"y":12,"v":0.48},{"x":6,"y":12,"v":0.52},{"x":7,"y":12,"v":0.18},{"x":8,"y":12,"v":0.05},{"x":9,"y":12,"v":0.45},{"x":10,"y":12,"v":0.62},{"x":11,"y":12,"v":0.38},{"x":12,"y":12,"v":0.35},{"x":13,"y":12,"v":0.62},
{"x":0,"y":13,"v":0.3},{"x":1,"y":13,"v":0.55},{"x":2,"y":13,"v":0.62},{"x":3,"y":13,"v":0.3},{"x":4,"y":13,"v":0.1},{"x":5,"y":13,"v":0.08},{"x":6,"y":13,"v":0.28},{"x":7,"y":13,"v":0.12},{"x":8,"y":13,"v":0.25},{"x":9,"y":13,"v":0.5},{"x":10,"y":13,"v":0.55},{"x":11,"y":13,"v":0.42},{"x":12,"y":13,"v":0.6},{"x":13,"y":13,"v":0.72}],
"f":[
{"x":0,"y":0,"v":0.3},{"x":1,"y":0,"v":0.75},{"x":2,"y":0,"v":0.18},{"x":3,"y":0,"v":0.55},{"x":4,"y":0,"v":0.65},{"x":5,"y":0,"v":0.38},{"x":6,"y":0,"v":0.78},{"x":7,"y":0,"v":0.85},{"x":8,"y":0,"v":0.45},{"x":9,"y":0,"v":0.72},{"x":10,"y":0,"v":0.6},{"x":11,"y":0,"v":0.38},{"x":12,"y":0,"v":0.1},{"x":13,"y":0,"v":0.15},{"x":14,"y":0,"v":0.38},{"x":15,"y":0,"v":0.75},{"x":16,"y":0,"v":0.25},{"x":17,"y":0,"v":0.52},
{"x":0,"y":1,"v":0.72},{"x":1,"y":1,"v":0.72},{"x":2,"y":1,"v":0.38},{"x":3,"y":1,"v":0.45},{"x":4,"y":1,"v":0.58},{"x":5,"y":1,"v":0.42},{"x":6,"y":1,"v":0.5},{"x":7,"y":1,"v":0.58},{"x":8,"y":1,"v":0.62},{"x":9,"y":1,"v":0.25},{"x":10,"y":1,"v":0.48},{"x":11,"y":1,"v":0.42},{"x":12,"y":1,"v":0.45},{"x":13,"y":1,"v":0.4},{"x":14,"y":1,"v":0.38},{"x":15,"y":1,"v":0.48},{"x":16,"y":1,"v":0.3},{"x":17,"y":1,"v":0.55},
{"x":0,"y":2,"v":0.72},{"x":1,"y":2,"v":0.45},{"x":2,"y":2,"v":0.12},{"x":3,"y":2,"v":0.15},{"x":4,"y":2,"v":0.55},{"x":5,"y":2,"v":0.18},{"x":6,"y":2,"v":0.05},{"x":7,"y":2,"v":0.2},{"x":8,"y":2,"v":0.5},{"x":9,"y":2,"v":0.1},{"x":10,"y":2,"v":0.2},{"x":11,"y":2,"v":0.6},{"x":12,"y":2,"v":0.62},{"x":13,"y":2,"v":0.62},{"x":14,"y":2,"v":0.62},{"x":15,"y":2,"v":0.66},{"x":16,"y":2,"v":0.6},{"x":17,"y":2,"v":0.88},
{"x":0,"y":3,"v":0.4},{"x":1,"y":3,"v":0.42},{"x":2,"y":3,"v":0.4},{"x":3,"y":3,"v":0.45},{"x":4,"y":3,"v":0.9},{"x":5,"y":3,"v":0.35},{"x":6,"y":3,"v":0.08},{"x":7,"y":3,"v":0.62},{"x":8,"y":3,"v":0.8},{"x":9,"y":3,"v":0.25},{"x":10,"y":3,"v":0.2},{"x":11,"y":3,"v":0.35},{"x":12,"y":3,"v":0.5},{"x":13,"y":3,"v":0.3},{"x":14,"y":3,"v":0.5},{"x":15,"y":3,"v":0.35},{"x":16,"y":3,"v":0.55},{"x":17,"y":3,"v":0.72},
{"x":0,"y":4,"v":0.18},{"x":1,"y":4,"v":0.42},{"x":2,"y":4,"v":0.55},{"x":3,"y":4,"v":0.4},{"x":4,"y":4,"v":0.75},{"x":5,"y":4,"v":0.18},{"x":6,"y":4,"v":0.15},{"x":7,"y":4,"v":0.45},{"x":8,"y":4,"v":0.72},{"x":9,"y":4,"v":0.7},{"x":10,"y":4,"v":0.55},{"x":11,"y":4,"v":0.5},{"x":12,"y":4,"v":0.62},{"x":13,"y":4,"v":0.25},{"x":14,"y":4,"v":0.32},{"x":15,"y":4,"v":0.22},{"x":16,"y":4,"v":0.2},{"x":17,"y":4,"v":0.25},
{"x":0,"y":5,"v":0.2},{"x":1,"y":5,"v":0.3},{"x":2,"y":5,"v":0.45},{"x":3,"y":5,"v":0.35},{"x":4,"y":5,"v":0.62},{"x":5,"y":5,"v":0.62},{"x":6,"y":5,"v":0.58},{"x":7,"y":5,"v":0.2},{"x":8,"y":5,"v":0.5},{"x":9,"y":5,"v":0.5},{"x":10,"y":5,"v":0.42},{"x":11,"y":5,"v":0.6},{"x":12,"y":5,"v":0.35},{"x":13,"y":5,"v":0.45},{"x":14,"y":5,"v":0.55},{"x":15,"y":5,"v":0.62},{"x":16,"y":5,"v":0.5},{"x":17,"y":5,"v":0.1},
{"x":0,"y":6,"v":0.15},{"x":1,"y":6,"v":0.12},{"x":2,"y":6,"v":0.5},{"x":3,"y":6,"v":0.2},{"x":4,"y":6,"v":0.2},{"x":5,"y":6,"v":0.2},{"x":6,"y":6,"v":0.35},{"x":7,"y":6,"v":0.5},{"x":8,"y":6,"v":0.35},{"x":9,"y":6,"v":0.58},{"x":10,"y":6,"v":0.3},{"x":11,"y":6,"v":0.25},{"x":12,"y":6,"v":0.1},{"x":13,"y":6,"v":0.3},{"x":14,"y":6,"v":0.42},{"x":15,"y":6,"v":0.75},{"x":16,"y":6,"v":0.8},{"x":17,"y":6,"v":0.4},
{"x":0,"y":7,"v":0.62},{"x":1,"y":7,"v":0.55},{"x":2,"y":7,"v":0.85},{"x":3,"y":7,"v":0.55},{"x":4,"y":7,"v":0.5},{"x":5,"y":7,"v":0.5},{"x":6,"y":7,"v":0.45},{"x":7,"y":7,"v":0.35},{"x":8,"y":7,"v":0.15},{"x":9,"y":7,"v":0.6},{"x":10,"y":7,"v":0.72},{"x":11,"y":7,"v":0.55},{"x":12,"y":7,"v":0.5},{"x":13,"y":7,"v":0.5},{"x":14,"y":7,"v":0.62},{"x":15,"y":7,"v":0.62},{"x":16,"y":7,"v":0.55},{"x":17,"y":7,"v":0.25},
{"x":0,"y":8,"v":0.72},{"x":1,"y":8,"v":0.5},{"x":2,"y":8,"v":0.7},{"x":3,"y":8,"v":0.6},{"x":4,"y":8,"v":0.55},{"x":5,"y":8,"v":0.3},{"x":6,"y":8,"v":0.55},{"x":7,"y":8,"v":0.5},{"x":8,"y":8,"v":0.3},{"x":9,"y":8,"v":0.2},{"x":10,"y":8,"v":0.7},{"x":11,"y":8,"v":0.55},{"x":12,"y":8,"v":0.58},{"x":13,"y":8,"v":0.15},{"x":14,"y":8,"v":0.55},{"x":15,"y":8,"v":0.82},{"x":16,"y":8,"v":0.28},{"x":17,"y":8,"v":0.05},
{"x":0,"y":9,"v":0.12},{"x":1,"y":9,"v":0.12},{"x":2,"y":9,"v":0.5},{"x":3,"y":9,"v":0.25},{"x":4,"y":9,"v":0.5},{"x":5,"y":9,"v":0.55},{"x":6,"y":9,"v":0.52},{"x":7,"y":9,"v":0.35},{"x":8,"y":9,"v":0.68},{"x":9,"y":9,"v":0.65},{"x":10,"y":9,"v":0.5},{"x":11,"y":9,"v":0.35},{"x":12,"y":9,"v":0.5},{"x":13,"y":9,"v":0.15},{"x":14,"y":9,"v":0.25},{"x":15,"y":9,"v":0.75},{"x":16,"y":9,"v":0.5},{"x":17,"y":9,"v":0.12},
{"x":0,"y":10,"v":0.25},{"x":1,"y":10,"v":0.25},{"x":2,"y":10,"v":0.5},{"x":3,"y":10,"v":0.4},{"x":4,"y":10,"v":0.62},{"x":5,"y":10,"v":0.45},{"x":6,"y":10,"v":0.28},{"x":7,"y":10,"v":0.55},{"x":8,"y":10,"v":0.72},{"x":9,"y":10,"v":0.15},{"x":10,"y":10,"v":0.28},{"x":11,"y":10,"v":0.55},{"x":12,"y":10,"v":0.38},{"x":13,"y":10,"v":0.25},{"x":14,"y":10,"v":0.2},{"x":15,"y":10,"v":0.5},{"x":16,"y":10,"v":0.52},{"x":17,"y":10,"v":0.38},
{"x":0,"y":11,"v":0.5},{"x":1,"y":11,"v":0.35},{"x":2,"y":11,"v":0.55},{"x":3,"y":11,"v":0.25},{"x":4,"y":11,"v":0.88},{"x":5,"y":11,"v":0.62},{"x":6,"y":11,"v":0.2},{"x":7,"y":11,"v":0.12},{"x":8,"y":11,"v":0.5},{"x":9,"y":11,"v":0.12},{"x":10,"y":11,"v":0.15},{"x":11,"y":11,"v":0.6},{"x":12,"y":11,"v":0.7},{"x":13,"y":11,"v":0.97},{"x":14,"y":11,"v":0.72},{"x":15,"y":11,"v":0.22},{"x":16,"y":11,"v":0.05},{"x":17,"y":11,"v":0.35},
{"x":0,"y":12,"v":0.28},{"x":1,"y":12,"v":0.15},{"x":2,"y":12,"v":0.5},{"x":3,"y":12,"v":0.45},{"x":4,"y":12,"v":0.72},{"x":5,"y":12,"v":0.5},{"x":6,"y":12,"v":0.3},{"x":7,"y":12,"v":0.35},{"x":8,"y":12,"v":0.55},{"x":9,"y":12,"v":0.42},{"x":10,"y":12,"v":0.3},{"x":11,"y":12,"v":0.5},{"x":12,"y":12,"v":0.35},{"x":13,"y":12,"v":0.82},{"x":14,"y":12,"v":0.4},{"x":15,"y":12,"v":0.25},{"x":16,"y":12,"v":0.35},{"x":17,"y":12,"v":0.45},
{"x":0,"y":13,"v":0.58},{"x":1,"y":13,"v":0.22},{"x":2,"y":13,"v":0.15},{"x":3,"y":13,"v":0.15},{"x":4,"y":13,"v":0.5},{"x":5,"y":13,"v":0.6},{"x":6,"y":13,"v":0.55},{"x":7,"y":13,"v":0.65},{"x":8,"y":13,"v":0.78},{"x":9,"y":13,"v":0.55},{"x":10,"y":13,"v":0.18},{"x":11,"y":13,"v":0.1},{"x":12,"y":13,"v":0.2},{"x":13,"y":13,"v":0.55},{"x":14,"y":13,"v":0.12},{"x":15,"y":13,"v":0.5},{"x":16,"y":13,"v":0.58},{"x":17,"y":13,"v":0.72},
{"x":0,"y":14,"v":0.62},{"x":1,"y":14,"v":0.55},{"x":2,"y":14,"v":0.4},{"x":3,"y":14,"v":0.42},{"x":4,"y":14,"v":0.55},{"x":5,"y":14,"v":0.52},{"x":6,"y":14,"v":0.3},{"x":7,"y":14,"v":0.5},{"x":8,"y":14,"v":0.6},{"x":9,"y":14,"v":0.55},{"x":10,"y":14,"v":0.5},{"x":11,"y":14,"v":0.28},{"x":12,"y":14,"v":0.38},{"x":13,"y":14,"v":0.45},{"x":14,"y":14,"v":0.62},{"x":15,"y":14,"v":0.78},{"x":16,"y":14,"v":0.38},{"x":17,"y":14,"v":0.6},
{"x":0,"y":15,"v":0.25},{"x":1,"y":15,"v":0.6},{"x":2,"y":15,"v":0.12},{"x":3,"y":15,"v":0.4},{"x":4,"y":15,"v":0.58},{"x":5,"y":15,"v":0.25},{"x":6,"y":15,"v":0.18},{"x":7,"y":15,"v":0.45},{"x":8,"y":15,"v":0.25},{"x":9,"y":15,"v":0.68},{"x":10,"y":15,"v":0.55},{"x":11,"y":15,"v":0.22},{"x":12,"y":15,"v":0.5},{"x":13,"y":15,"v":0.45},{"x":14,"y":15,"v":0.82},{"x":15,"y":15,"v":0.62},{"x":16,"y":15,"v":0.45},{"x":17,"y":15,"v":0.32},
{"x":0,"y":16,"v":0.4},{"x":1,"y":16,"v":0.58},{"x":2,"y":16,"v":0.05},{"x":3,"y":16,"v":0.5},{"x":4,"y":16,"v":0.3},{"x":5,"y":16,"v":0.48},{"x":6,"y":16,"v":0.55},{"x":7,"y":16,"v":0.52},{"x":8,"y":16,"v":0.45},{"x":9,"y":16,"v":0.82},{"x":10,"y":16,"v":0.45},{"x":11,"y":16,"v":0.5},{"x":12,"y":16,"v":0.25},{"x":13,"y":16,"v":0.2},{"x":14,"y":16,"v":0.42},{"x":15,"y":16,"v":0.45},{"x":16,"y":16,"v":0.42},{"x":17,"y":16,"v":0.55},
{"x":0,"y":17,"v":0.82},{"x":1,"y":17,"v":0.55},{"x":2,"y":17,"v":0.3},{"x":3,"y":17,"v":0.42},{"x":4,"y":17,"v":0.2},{"x":5,"y":17,"v":0.55},{"x":6,"y":17,"v":0.55},{"x":7,"y":17,"v":0.3},{"x":8,"y":17,"v":0.15},{"x":9,"y":17,"v":0.95},{"x":10,"y":17,"v":0.5},{"x":11,"y":17,"v":0.58},{"x":12,"y":17,"v":0.72},{"x":13,"y":17,"v":0.4},{"x":14,"y":17,"v":0.15},{"x":15,"y":17,"v":0.05},{"x":16,"y":17,"v":0.45},{"x":17,"y":17,"v":0.7}],
"g":[
{"x":0,"y":0,"v":0.42},{"x":1,"y":0,"v":0.4},{"x":2,"y":0,"v":0.33},{"x":3,"y":0,"v":0.25},{"x":4,"y":0,"v":0.22},{"x":5,"y":0,"v":0.28},{"x":6,"y":0,"v":0.33},{"x":7,"y":0,"v":0.42},
{"x":0,"y":1,"v":0.33},{"x":1,"y":1,"v":0.38},{"x":2,"y":1,"v":0.45},{"x":3,"y":1,"v":0.42},{"x":4,"y":1,"v":0.38},{"x":5,"y":1,"v":0.4},{"x":6,"y":1,"v":0.48},{"x":7,"y":1,"v":0.62},
{"x":0,"y":2,"v":0.5},{"x":1,"y":2,"v":0.55},{"x":2,"y":2,"v":0.58},{"x":3,"y":2,"v":0.55},{"x":4,"y":2,"v":0.47},{"x":5,"y":2,"v":0.45},{"x":6,"y":2,"v":0.5},{"x":7,"y":2,"v":0.72},
{"x":0,"y":3,"v":0.58},{"x":1,"y":3,"v":0.62},{"x":2,"y":3,"v":0.62},{"x":3,"y":3,"v":0.58},{"x":4,"y":3,"v":0.5},{"x":5,"y":3,"v":0.45},{"x":6,"y":3,"v":0.48},{"x":7,"y":3,"v":0.62},
{"x":0,"y":4,"v":0.42},{"x":1,"y":4,"v":0.5},{"x":2,"y":4,"v":0.5},{"x":3,"y":4,"v":0.46},{"x":4,"y":4,"v":0.4},{"x":5,"y":4,"v":0.36},{"x":6,"y":4,"v":0.3},{"x":7,"y":4,"v":0.3},
{"x":0,"y":5,"v":0.22},{"x":1,"y":5,"v":0.22},{"x":2,"y":5,"v":0.17},{"x":3,"y":5,"v":0.15},{"x":4,"y":5,"v":0.13},{"x":5,"y":5,"v":0.1},{"x":6,"y":5,"v":0.05},{"x":7,"y":5,"v":0.01},
{"x":0,"y":6,"v":0.5},{"x":1,"y":6,"v":0.3},{"x":2,"y":6,"v":0.2},{"x":3,"y":6,"v":0.18},{"x":4,"y":6,"v":0.15},{"x":5,"y":6,"v":0.15},{"x":6,"y":6,"v":0.12},{"x":7,"y":6,"v":0.1},
{"x":0,"y":7,"v":0.4},{"x":1,"y":7,"v":0.3},{"x":2,"y":7,"v":0.28},{"x":3,"y":7,"v":0.32},{"x":4,"y":7,"v":0.42},{"x":5,"y":7,"v":0.55},{"x":6,"y":7,"v":0.55},{"x":7,"y":7,"v":0.42},
{"x":0,"y":8,"v":0.3},{"x":1,"y":8,"v":0.14},{"x":2,"y":8,"v":0.08},{"x":3,"y":8,"v":0.18},{"x":4,"y":8,"v":0.45},{"x":5,"y":8,"v":0.78},{"x":6,"y":8,"v":0.92},{"x":7,"y":8,"v":0.85},
{"x":0,"y":9,"v":0.55},{"x":1,"y":9,"v":0.45},{"x":2,"y":9,"v":0.4},{"x":3,"y":9,"v":0.6},{"x":4,"y":9,"v":0.85},{"x":5,"y":9,"v":0.95},{"x":6,"y":9,"v":0.95},{"x":7,"y":9,"v":0.9},
{"x":0,"y":10,"v":0.65},{"x":1,"y":10,"v":0.65},{"x":2,"y":10,"v":0.8},{"x":3,"y":10,"v":0.93},{"x":4,"y":10,"v":0.98},{"x":5,"y":10,"v":0.95},{"x":6,"y":10,"v":0.82},{"x":7,"y":10,"v":0.72},
{"x":0,"y":11,"v":0.6},{"x":1,"y":11,"v":0.6},{"x":2,"y":11,"v":0.68},{"x":3,"y":11,"v":0.72},{"x":4,"y":11,"v":0.75},{"x":5,"y":11,"v":0.75},{"x":6,"y":11,"v":0.65},{"x":7,"y":11,"v":0.48},
{"x":0,"y":12,"v":0.18},{"x":1,"y":12,"v":0.22},{"x":2,"y":12,"v":0.4},{"x":3,"y":12,"v":0.5},{"x":4,"y":12,"v":0.55},{"x":5,"y":12,"v":0.62},{"x":6,"y":12,"v":0.62},{"x":7,"y":12,"v":0.55},
{"x":0,"y":13,"v":0.28},{"x":1,"y":13,"v":0.4},{"x":2,"y":13,"v":0.5},{"x":3,"y":13,"v":0.52},{"x":4,"y":13,"v":0.55},{"x":5,"y":13,"v":0.55},{"x":6,"y":13,"v":0.45},{"x":7,"y":13,"v":0.3},
{"x":0,"y":14,"v":0.75},{"x":1,"y":14,"v":0.82},{"x":2,"y":14,"v":0.8},{"x":3,"y":14,"v":0.7},{"x":4,"y":14,"v":0.6},{"x":5,"y":14,"v":0.5},{"x":6,"y":14,"v":0.35},{"x":7,"y":14,"v":0.2},
{"x":0,"y":15,"v":0.72},{"x":1,"y":15,"v":0.9},{"x":2,"y":15,"v":0.98},{"x":3,"y":15,"v":0.9},{"x":4,"y":15,"v":0.78},{"x":5,"y":15,"v":0.55},{"x":6,"y":15,"v":0.38},{"x":7,"y":15,"v":0.25},
{"x":0,"y":16,"v":0.48},{"x":1,"y":16,"v":0.7},{"x":2,"y":16,"v":0.85},{"x":3,"y":16,"v":0.87},{"x":4,"y":16,"v":0.85},{"x":5,"y":16,"v":0.75},{"x":6,"y":16,"v":0.7},{"x":7,"y":16,"v":0.62},
{"x":0,"y":17,"v":0.55},{"x":1,"y":17,"v":0.75},{"x":2,"y":17,"v":0.88},{"x":3,"y":17,"v":0.93},{"x":4,"y":17,"v":0.95},{"x":5,"y":17,"v":0.95},{"x":6,"y":17,"v":0.96},{"x":7,"y":17,"v":0.95},
{"x":0,"y":18,"v":0.65},{"x":1,"y":18,"v":0.78},{"x":2,"y":18,"v":0.85},{"x":3,"y":18,"v":0.85},{"x":4,"y":18,"v":0.8},{"x":5,"y":18,"v":0.72},{"x":6,"y":18,"v":0.75},{"x":7,"y":18,"v":0.78},
{"x":0,"y":19,"v":0.75},{"x":1,"y":19,"v":0.78},{"x":2,"y":19,"v":0.78},{"x":3,"y":19,"v":0.65},{"x":4,"y":19,"v":0.45},{"x":5,"y":19,"v":0.35},{"x":6,"y":19,"v":0.35},{"x":7,"y":19,"v":0.42}],
"h":[
{"x":0,"y":0,"v":0.5},{"x":1,"y":0,"v":0.72},{"x":2,"y":0,"v":0.5},{"x":3,"y":0,"v":0.55},{"x":4,"y":0,"v":0.48},{"x":5,"y":0,"v":0.42},{"x":6,"y":0,"v":0.58},{"x":7,"y":0,"v":0.7},{"x":8,"y":0,"v":0.45},{"x":9,"y":0,"v":0.5},{"x":10,"y":0,"v":0.55},{"x":11,"y":0,"v":0.15},{"x":12,"y":0,"v":0.52},{"x":13,"y":0,"v":0.55},{"x":14,"y":0,"v":0.65},{"x":15,"y":0,"v":0.82},{"x":16,"y":0,"v":0.55},{"x":17,"y":0,"v":0.5},{"x":18,"y":0,"v":0.25},{"x":19,"y":0,"v":0.55},
{"x":0,"y":1,"v":0.52},{"x":1,"y":1,"v":0.72},{"x":2,"y":1,"v":0.62},{"x":3,"y":1,"v":0.68},{"x":4,"y":1,"v":0.42},{"x":5,"y":1,"v":0.2},{"x":6,"y":1,"v":0.12},{"x":7,"y":1,"v":0.04},{"x":8,"y":1,"v":0.42},{"x":9,"y":1,"v":0.55},{"x":10,"y":1,"v":0.42},{"x":11,"y":1,"v":0.22},{"x":12,"y":1,"v":0.5},{"x":13,"y":1,"v":0.32},{"x":14,"y":1,"v":0.62},{"x":15,"y":1,"v":0.85},{"x":16,"y":1,"v":0.62},{"x":17,"y":1,"v":0.55},{"x":18,"y":1,"v":0.32},{"x":19,"y":1,"v":0.55},
{"x":0,"y":2,"v":0.62},{"x":1,"y":2,"v":0.35},{"x":2,"y":2,"v":0.55},{"x":3,"y":2,"v":0.72},{"x":4,"y":2,"v":0.55},{"x":5,"y":2,"v":0.25},{"x":6,"y":2,"v":0.2},{"x":7,"y":2,"v":0.02},{"x":8,"y":2,"v":0.35},{"x":9,"y":2,"v":0.6},{"x":10,"y":2,"v":0.3},{"x":11,"y":2,"v":0.22},{"x":12,"y":2,"v":0.45},{"x":13,"y":2,"v":0.25},{"x":14,"y":2,"v":0.65},{"x":15,"y":2,"v":0.96},{"x":16,"y":2,"v":0.82},{"x":17,"y":2,"v":0.62},{"x":18,"y":2,"v":0.78},{"x":19,"y":2,"v":0.58},
{"x":0,"y":3,"v":0.38},{"x":1,"y":3,"v":0.08},{"x":2,"y":3,"v":0.45},{"x":3,"y":3,"v":0.78},{"x":4,"y":3,"v":0.58},{"x":5,"y":3,"v":0.4},{"x":6,"y":3,"v":0.45},{"x":7,"y":3,"v":0.12},{"x":8,"y":3,"v":0.42},{"x":9,"y":3,"v":0.62},{"x":10,"y":3,"v":0.48},{"x":11,"y":3,"v":0.42},{"x":12,"y":3,"v":0.55},{"x":13,"y":3,"v":0.3},{"x":14,"y":3,"v":0.78},{"x":15,"y":3,"v":0.97},{"x":16,"y":3,"v":0.9},{"x":17,"y":3,"v":0.6},{"x":18,"y":3,"v":0.62},{"x":19,"y":3,"v":0.55},
{"x":0,"y":4,"v":0.5},{"x":1,"y":4,"v":0.12},{"x":2,"y":4,"v":0.5},{"x":3,"y":4,"v":0.65},{"x":4,"y":4,"v":0.6},{"x":5,"y":4,"v":0.35},{"x":6,"y":4,"v":0.48},{"x":7,"y":4,"v":0.58},{"x":8,"y":4,"v":0.25},{"x":9,"y":4,"v":0.6},{"x":10,"y":4,"v":0.62},{"x":11,"y":4,"v":0.6},{"x":12,"y":4,"v":0.5},{"x":13,"y":4,"v":0.38},{"x":14,"y":4,"v":0.62},{"x":15,"y":4,"v":0.6},{"x":16,"y":4,"v":0.5},{"x":17,"y":4,"v":0.65},{"x":18,"y":4,"v":0.58},{"x":19,"y":4,"v":0.6},
{"x":0,"y":5,"v":0.65},{"x":1,"y":5,"v":0.22},{"x":2,"y":5,"v":0.5},{"x":3,"y":5,"v":0.62},{"x":4,"y":5,"v":0.75},{"x":5,"y":5,"v":0.4},{"x":6,"y":5,"v":0.5},{"x":7,"y":5,"v":0.45},{"x":8,"y":5,"v":0.1},{"x":9,"y":5,"v":0.5},{"x":10,"y":5,"v":0.62},{"x":11,"y":5,"v":0.55},{"x":12,"y":5,"v":0.55},{"x":13,"y":5,"v":0.55},{"x":14,"y":5,"v":0.6},{"x":15,"y":5,"v":0.2},{"x":16,"y":5,"v":0.55},{"x":17,"y":5,"v":0.55},{"x":18,"y":5,"v":0.58},{"x":19,"y":5,"v":0.7},
{"x":0,"y":6,"v":0.6},{"x":1,"y":6,"v":0.28},{"x":2,"y":6,"v":0.42},{"x":3,"y":6,"v":0.75},{"x":4,"y":6,"v":0.72},{"x":5,"y":6,"v":0.55},{"x":6,"y":6,"v":0.7},{"x":7,"y":6,"v":0.62},{"x":8,"y":6,"v":0.12},{"x":9,"y":6,"v":0.6},{"x":10,"y":6,"v":0.72},{"x":11,"y":6,"v":0.52},{"x":12,"y":6,"v":0.55},{"x":13,"y":6,"v":0.5},{"x":14,"y":6,"v":0.62},{"x":15,"y":6,"v":0.42},{"x":16,"y":6,"v":0.45},{"x":17,"y":6,"v":0.22},{"x":18,"y":6,"v":0.4},{"x":19,"y":6,"v":0.62},
{"x":0,"y":7,"v":0.55},{"x":1,"y":7,"v":0.5},{"x":2,"y":7,"v":0.62},{"x":3,"y":7,"v":0.65},{"x":4,"y":7,"v":0.88},{"x":5,"y":7,"v":0.6},{"x":6,"y":7,"v":0.88},{"x":7,"y":7,"v":0.65},{"x":8,"y":7,"v":0.32},{"x":9,"y":7,"v":0.55},{"x":10,"y":7,"v":0.78},{"x":11,"y":7,"v":0.55},{"x":12,"y":7,"v":0.38},{"x":13,"y":7,"v":0.5},{"x":14,"y":7,"v":0.72},{"x":15,"y":7,"v":0.58},{"x":16,"y":7,"v":0.38},{"x":17,"y":7,"v":0.08},{"x":18,"y":7,"v":0.32},{"x":19,"y":7,"v":0.68},
{"x":0,"y":8,"v":0.7},{"x":1,"y":8,"v":0.75},{"x":2,"y":8,"v":0.6},{"x":3,"y":8,"v":0.72},{"x":4,"y":8,"v":0.72},{"x":5,"y":8,"v":0.7},{"x":6,"y":8,"v":0.72},{"x":7,"y":8,"v":0.7},{"x":8,"y":8,"v":0.55},{"x":9,"y":8,"v":0.5},{"x":10,"y":8,"v":0.65},{"x":11,"y":8,"v":0.72},{"x":12,"y":8,"v":0.55},{"x":13,"y":8,"v":0.55},{"x":14,"y":8,"v":0.65},{"x":15,"y":8,"v":0.55},{"x":16,"y":8,"v":0.42},{"x":17,"y":8,"v":0.15},{"x":18,"y":8,"v":0.5},{"x":19,"y":8,"v":0.72},
{"x":0,"y":9,"v":0.82},{"x":1,"y":9,"v":0.82},{"x":2,"y":9,"v":0.58},{"x":3,"y":9,"v":0.48},{"x":4,"y":9,"v":0.72},{"x":5,"y":9,"v":0.75},{"x":6,"y":9,"v":0.58},{"x":7,"y":9,"v":0.3},{"x":8,"y":9,"v":0.42},{"x":9,"y":9,"v":0.5},{"x":10,"y":9,"v":0.62},{"x":11,"y":9,"v":0.52},{"x":12,"y":9,"v":0.35},{"x":13,"y":9,"v":0.42},{"x":14,"y":9,"v":0.72},{"x":15,"y":9,"v":0.95},{"x":16,"y":9,"v":0.72},{"x":17,"y":9,"v":0.42},{"x":18,"y":9,"v":0.35},{"x":19,"y":9,"v":0.55}],
"cb":[{"a":0,"b":0.02},{"a":0.02,"b":0.04},{"a":0.04,"b":0.06},{"a":0.06,"b":0.08},{"a":0.08,"b":0.1},{"a":0.1,"b":0.12},{"a":0.12,"b":0.14},{"a":0.14,"b":0.16},{"a":0.16,"b":0.18},{"a":0.18,"b":0.2},{"a":0.2,"b":0.22},{"a":0.22,"b":0.24},{"a":0.24,"b":0.26},{"a":0.26,"b":0.28},{"a":0.28,"b":0.3},{"a":0.3,"b":0.32},{"a":0.32,"b":0.34},{"a":0.34,"b":0.36},{"a":0.36,"b":0.38},{"a":0.38,"b":0.4},{"a":0.4,"b":0.42},{"a":0.42,"b":0.44},{"a":0.44,"b":0.46},{"a":0.46,"b":0.48},{"a":0.48,"b":0.5},{"a":0.5,"b":0.52},{"a":0.52,"b":0.54},{"a":0.54,"b":0.56},{"a":0.56,"b":0.58},{"a":0.58,"b":0.6},{"a":0.6,"b":0.62},{"a":0.62,"b":0.64},{"a":0.64,"b":0.66},{"a":0.66,"b":0.68},{"a":0.68,"b":0.7},{"a":0.7,"b":0.72},{"a":0.72,"b":0.74},{"a":0.74,"b":0.76},{"a":0.76,"b":0.78},{"a":0.78,"b":0.8},{"a":0.8,"b":0.82},{"a":0.82,"b":0.84},{"a":0.84,"b":0.86},{"a":0.86,"b":0.88},{"a":0.88,"b":0.9},{"a":0.9,"b":0.92},{"a":0.92,"b":0.94},{"a":0.94,"b":0.96},{"a":0.96,"b":0.98},{"a":0.98,"b":1}]},
"bounds":"flush","spacing":602.5,"vconcat":[{"bounds":"flush","spacing":37.9,"hconcat":[
{"title":{"text":["(a)","periods = (2, 2)","octaves = 3","lacunarity = 2","persistence = 0.5"]},"width":402.5,"height":402.5,"layer":[{"data":{"name":"a"},"mark":{"type":"rect","clip":true,"strokeWidth":1},"encoding":{"x":{"field":"x","type":"ordinal","axis":null},"y":{"field":"y","type":"ordinal","axis":null},"color":{"field":"v","type":"quantitative","scale":{"scheme":"plasma","domain":[0,1]},"legend":null},"stroke":{"field":"v","type":"quantitative","scale":{"scheme":"plasma","domain":[0,1]},"legend":null}}},{"data":{"values":[{}]},"mark":{"type":"rect","fill":null,"stroke":"black","strokeWidth":2.8},"encoding":{}}]},
{"title":{"text":["(b)","periods = (2, 2)","octaves = 8","lacunarity = 2","persistence = 0.5"]},"width":402.5,"height":402.5,"layer":[{"data":{"name":"b"},"mark":{"type":"rect","clip":true,"strokeWidth":1},"encoding":{"x":{"field":"x","type":"ordinal","axis":null},"y":{"field":"y","type":"ordinal","axis":null},"color":{"field":"v","type":"quantitative","scale":{"scheme":"plasma","domain":[0,1]},"legend":null},"stroke":{"field":"v","type":"quantitative","scale":{"scheme":"plasma","domain":[0,1]},"legend":null}}},{"data":{"values":[{}]},"mark":{"type":"rect","fill":null,"stroke":"black","strokeWidth":2.8},"encoding":{}}]},
{"title":{"text":["(c)","periods = (4, 4)","octaves = 5","lacunarity = 3","persistence = 0.75"]},"width":402.5,"height":402.5,"layer":[{"data":{"name":"c"},"mark":{"type":"rect","clip":true,"strokeWidth":1},"encoding":{"x":{"field":"x","type":"ordinal","axis":null},"y":{"field":"y","type":"ordinal","axis":null},"color":{"field":"v","type":"quantitative","scale":{"scheme":"plasma","domain":[0,1]},"legend":null},"stroke":{"field":"v","type":"quantitative","scale":{"scheme":"plasma","domain":[0,1]},"legend":null}}},{"data":{"values":[{}]},"mark":{"type":"rect","fill":null,"stroke":"black","strokeWidth":2.8},"encoding":{}}]}]},
{"bounds":"flush","spacing":37.9,"hconcat":[
{"title":{"text":["(d)","periods = (1, 1)","octaves = 1","lacunarity = 2","persistence = 0.5"]},"width":402.5,"height":402.5,"layer":[{"data":{"name":"d"},"mark":{"type":"rect","clip":true,"strokeWidth":1},"encoding":{"x":{"field":"x","type":"ordinal","axis":null},"y":{"field":"y","type":"ordinal","axis":null},"color":{"field":"v","type":"quantitative","scale":{"scheme":"plasma","domain":[0,1]},"legend":null},"stroke":{"field":"v","type":"quantitative","scale":{"scheme":"plasma","domain":[0,1]},"legend":null}}},{"data":{"values":[{}]},"mark":{"type":"rect","fill":null,"stroke":"black","strokeWidth":2.8},"encoding":{}}]},
{"title":{"text":["(e)","periods = (6, 6)","octaves = 3","lacunarity = 4","persistence = 0.2"]},"width":402.5,"height":402.5,"layer":[{"data":{"name":"e"},"mark":{"type":"rect","clip":true,"strokeWidth":1},"encoding":{"x":{"field":"x","type":"ordinal","axis":null},"y":{"field":"y","type":"ordinal","axis":null},"color":{"field":"v","type":"quantitative","scale":{"scheme":"plasma","domain":[0,1]},"legend":null},"stroke":{"field":"v","type":"quantitative","scale":{"scheme":"plasma","domain":[0,1]},"legend":null}}},{"data":{"values":[{}]},"mark":{"type":"rect","fill":null,"stroke":"black","strokeWidth":2.8},"encoding":{}}]},
{"title":{"text":["(f)","periods = (10, 10)","octaves = 1","lacunarity = 2","persistence = 0.5"]},"width":402.5,"height":402.5,"layer":[{"data":{"name":"f"},"mark":{"type":"rect","clip":true,"strokeWidth":1},"encoding":{"x":{"field":"x","type":"ordinal","axis":null},"y":{"field":"y","type":"ordinal","axis":null},"color":{"field":"v","type":"quantitative","scale":{"scheme":"plasma","domain":[0,1]},"legend":null},"stroke":{"field":"v","type":"quantitative","scale":{"scheme":"plasma","domain":[0,1]},"legend":null}}},{"data":{"values":[{}]},"mark":{"type":"rect","fill":null,"stroke":"black","strokeWidth":2.8},"encoding":{}}]}]},
{"bounds":"flush","spacing":37.9,"hconcat":[
{"title":{"text":["(g)","periods = (5, 1)","octaves = 2","lacunarity = 2","persistence = 0.2"]},"width":402.5,"height":402.5,"layer":[{"data":{"name":"g"},"mark":{"type":"rect","clip":true,"strokeWidth":1},"encoding":{"x":{"field":"x","type":"ordinal","axis":null},"y":{"field":"y","type":"ordinal","axis":null},"color":{"field":"v","type":"quantitative","scale":{"scheme":"plasma","domain":[0,1]},"legend":null},"stroke":{"field":"v","type":"quantitative","scale":{"scheme":"plasma","domain":[0,1]},"legend":null}}},{"data":{"values":[{}]},"mark":{"type":"rect","fill":null,"stroke":"black","strokeWidth":2.8},"encoding":{}}]},
{"title":{"text":["(h)","periods = (2, 6)","octaves = 3","lacunarity = 2","persistence = 0.6"]},"width":402.5,"height":402.5,"layer":[{"data":{"name":"h"},"mark":{"type":"rect","clip":true,"strokeWidth":1},"encoding":{"x":{"field":"x","type":"ordinal","axis":null},"y":{"field":"y","type":"ordinal","axis":null},"color":{"field":"v","type":"quantitative","scale":{"scheme":"plasma","domain":[0,1]},"legend":null},"stroke":{"field":"v","type":"quantitative","scale":{"scheme":"plasma","domain":[0,1]},"legend":null}}},{"data":{"values":[{}]},"mark":{"type":"rect","fill":null,"stroke":"black","strokeWidth":2.8},"encoding":{}}]},
{"bounds":"flush","spacing":0,"vconcat":[{"width":402.5,"height":189,"data":{"values":[{}]},"mark":{"type":"rect","fill":null,"stroke":null},"encoding":{}},{"width":402.5,"height":23.5,"layer":[{"data":{"name":"cb"},"mark":{"type":"rect","clip":true,"strokeWidth":1},"encoding":{"x":{"field":"a","type":"quantitative","scale":{"domain":[0,1],"nice":false},"axis":{"values":[0,0.25,0.5,0.75,1],"format":".2f","title":"Landscape value","labelFontSize":28.8,"titleFontSize":29,"titleFontWeight":"normal","labelColor":"black","titleColor":"black","tickColor":"black","tickWidth":2.8,"tickSize":16,"domain":false,"grid":false,"labelPadding":14,"titlePadding":13,"labelFlush":false,"labelOffset":-1}},"x2":{"field":"b"},"color":{"field":"a","type":"quantitative","scale":{"scheme":"plasma","domain":[0,1]},"legend":null},"stroke":{"field":"a","type":"quantitative","scale":{"scheme":"plasma","domain":[0,1]},"legend":null}}},{"data":{"values":[{}]},"mark":{"type":"rect","fill":null,"stroke":"black","strokeWidth":2.8},"encoding":{}}]}]}]}]}
